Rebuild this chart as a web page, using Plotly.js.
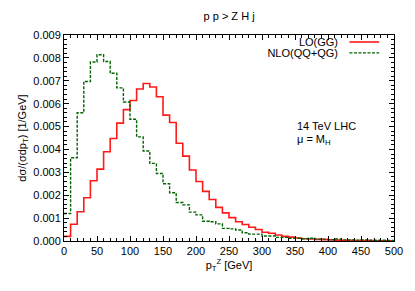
<!DOCTYPE html>
<html>
<head>
<meta charset="utf-8">
<script src="https://cdn.plot.ly/plotly-3.0.1.min.js"></script>
<style>html,body{margin:0;padding:0;background:#fff;}#chart{width:415px;height:291px;}</style>
</head>
<body>
<div id="chart"></div>
<script>
// Bin lower edges (GeV), bin width 10 GeV
const binEdges = [0,10,20,30,40,50,60,70,80,90,100,110,120,130,140,150,160,170,180,190,200,210,220,230,240,250,260,270,280,290,300,310,320,330,340,350,360,370,380,390,400,410,420,430,440,450,460,470,480,490];
const xEnd = 500;

// LO(GG)
const loGG = [0.0002,0.00073,0.00128,0.00189,0.00263,0.00314,0.0039,0.00448,0.00515,0.00574,
  0.00614,0.00664,0.00688,0.00673,0.0063,0.0055,0.00518,0.00427,0.00371,0.0031,
  0.0026,0.00217,0.00181,0.00147,0.00123,0.00102,0.00084,0.00072,0.0006,0.0005,
  0.00038,0.00034,0.00026,0.0002,0.00017,0.00013,0.0001,0.00009,0.00007,0.00006,
  0.00005,0.00004,0.00003,0.00003,0.00002,0.00002,0.00002,0.00001,0.00001,0.00001];

// NLO(QQ+QG)
const nloQQQG = [0.0012,0.00364,0.0056,0.00697,0.00782,0.00814,0.00784,0.00733,0.00669,0.00607,
  0.00532,0.00455,0.00393,0.00339,0.00295,0.0025,0.00211,0.00168,0.00158,0.00126,
  0.00114,0.00086,0.00084,0.00075,0.00055,0.00053,0.00048,0.00036,0.0003,0.0003,
  0.00022,0.00022,0.00016,0.00016,0.00012,0.00012,0.0001,0.00012,0.00008,0.00008,
  0.00006,0.00009,0.00005,0.00005,0.00004,0.00005,0.00003,0.00003,0.00003,0.00002];

const seriesNames = ['LO(GG)', 'NLO(QQ+QG)'];
const yTickVals = [0,0.001,0.002,0.003,0.004,0.005,0.006,0.007,0.008,0.009];
const xTickVals = [0,50,100,150,200,250,300,350,400,450,500];

function stepTrace(vals, name, line) {
  return {
    type: 'scatter', mode: 'lines', name: name,
    x: binEdges.concat([xEnd]),
    y: vals.concat([vals[vals.length-1]]),
    line: Object.assign({shape: 'hv'}, line),
    showlegend: false, hoverinfo: 'skip'
  };
}

const redLine = {color: '#ff1a1a', width: 1.6};
const greenLine = {color: '#006400', width: 1.4, dash: '3px,1.5px'};

const traces = [
  stepTrace(loGG, seriesNames[0], redLine),
  stepTrace(nloQQQG, seriesNames[1], greenLine)
];

const font = {family: 'Liberation Sans, Arial, sans-serif', size: 11, color: '#000'};

function legendLabel(text, x, y) {
  return {xref: 'paper', yref: 'paper', x: x, y: y, xanchor: 'right', yanchor: 'middle',
    align: 'right', width: 100, height: 14, borderpad: 0, text: text, showarrow: false, font: font};
}
function noteLabel(text, x, y) {
  return {xref: 'paper', yref: 'paper', x: x, y: y, xanchor: 'left', yanchor: 'middle',
    text: text, showarrow: false, font: font};
}

const layout = {
  width: 415, height: 291,
  margin: {l: 64, r: 21, t: 35, b: 50},
  paper_bgcolor: '#fff', plot_bgcolor: '#fff',
  font: font,
  showlegend: false,
  title: {text: 'p p > Z H j', x: 0.552, xanchor: 'center', y: 0.945, yanchor: 'middle', font: {family: font.family, size: 11, color: '#000'}},
  xaxis: {
    range: [0, 500], tickvals: xTickVals, ticktext: xTickVals.map(String),
    ticks: 'inside', ticklen: 5, tickwidth: 1, tickcolor: '#000',
    minor: {ticks: 'inside', dtick: 10, ticklen: 3, tickcolor: '#000', tickwidth: 1},
    showline: true, linecolor: '#000', linewidth: 1, mirror: 'allticks',
    showgrid: false, zeroline: false,
    title: {text: 'p<sub>T</sub><sup>Z</sup> [GeV]', standoff: 4, font: font},
    tickfont: font
  },
  yaxis: {
    range: [0, 0.009], tickvals: yTickVals, ticktext: yTickVals.map(v => v.toFixed(3)),
    ticks: 'inside', ticklen: 5, tickwidth: 1, tickcolor: '#000',
    minor: {ticks: 'inside', dtick: 0.0002, ticklen: 3, tickcolor: '#000', tickwidth: 1},
    showline: true, linecolor: '#000', linewidth: 1, mirror: 'allticks',
    showgrid: false, zeroline: false,
    title: {text: 'dσ/(σdp<sub>T</sub>) [1/GeV]', standoff: 4, font: font},
    tickfont: font
  },
  annotations: [
    legendLabel(seriesNames[0], 0.833, 0.966),
    legendLabel(seriesNames[1], 0.833, 0.913),
    noteLabel('14 TeV LHC', 0.70, 0.56),
    noteLabel('μ = M<sub>H</sub>', 0.70, 0.49)
  ],
  shapes: [
    {type: 'line', xref: 'paper', yref: 'paper', x0: 0.865, x1: 0.955, y0: 0.966, y1: 0.966, line: redLine},
    {type: 'line', xref: 'paper', yref: 'paper', x0: 0.865, x1: 0.955, y0: 0.913, y1: 0.913, line: greenLine}
  ]
};

Plotly.newPlot('chart', traces, layout, {staticPlot: true, displayModeBar: false});
</script>
</body>
</html>
